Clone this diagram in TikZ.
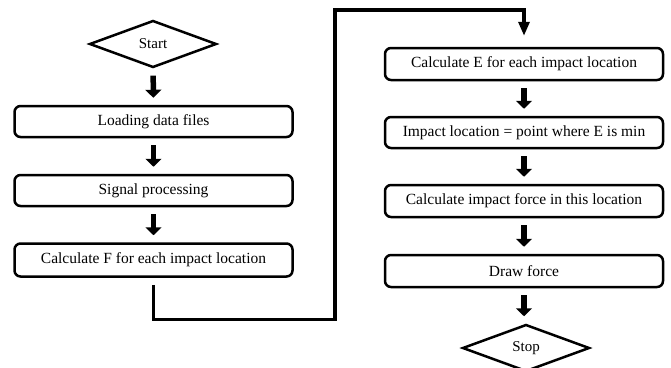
\documentclass[tikz,border=0pt]{standalone}
\usepackage{fontspec}
\setmainfont{Liberation Serif}
\usetikzlibrary{arrows.meta,shapes.geometric}
\begin{document}
\begin{tikzpicture}[x=1pt,y=-1pt,
  procbox/.style={draw,line width=2.5pt,rounded corners=6pt,minimum width=278pt,minimum height=31pt,inner sep=0pt,font=\fontsize{15.5}{18}\selectfont},
  term/.style={draw,line width=2.5pt,diamond,minimum width=127pt,minimum height=47pt,inner sep=0pt,font=\fontsize{15}{18}\selectfont},
  blockarrow/.style={line width=5.5pt,-{Triangle[width=16pt,length=8pt]},shorten <=7pt,shorten >=7pt},
  conn/.style={line width=3.2pt,-{Triangle[width=11pt,length=14pt]},shorten <=7pt,shorten >=11pt}]
\useasboundingbox (0,0) rectangle (671,367);
\node[term] (start) at (153,44) {Start};
\node[procbox] (load) at (153.5,121.5) {Loading data files};
\node[procbox] (sig) at (153.5,190.5) {Signal processing};
\node[procbox,minimum height=33pt] (calcF) at (153.5,260) {Calculate F for each impact location};
\node[procbox,minimum height=32pt] (calcE) at (524,64) {Calculate E for each impact location};
\node[procbox] (imp) at (524,132.5) {Impact location = point where E is min};
\node[procbox,minimum height=32pt] (force) at (524,201) {Calculate impact force in this location};
\node[procbox,minimum height=32pt] (drawf) at (524,271) {Draw force};
\node[term] (stop) at (526,348) {Stop};
\coordinate (c1) at (153.5,319.5);
\coordinate (c2) at (335,319.5);
\coordinate (c3) at (335,10);
\draw[blockarrow] (start) -- (load);
\draw[blockarrow] (load) -- (sig);
\draw[blockarrow] (sig) -- (calcF);
\draw[blockarrow] (calcE) -- (imp);
\draw[blockarrow] (imp) -- (force);
\draw[blockarrow] (force) -- (drawf);
\draw[blockarrow] (drawf.south) -- (drawf.south |- stop.north);
\draw[conn] (calcF.south) -- (c1) -- (c2) -- (c3) -| (calcE.north);
\end{tikzpicture}
\end{document}
